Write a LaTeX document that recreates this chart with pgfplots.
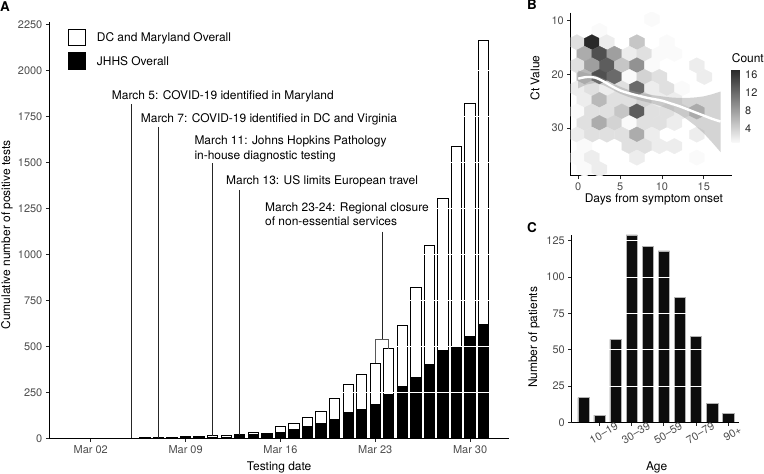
\documentclass[border=0pt]{standalone}
\usepackage{fontspec}
\setmainfont{TeX Gyre Heros}
\usepackage{pgfplots}
\usepackage{pgfplotstable}
\pgfplotsset{compat=1.18}
\definecolor{tickgray}{RGB}{77,77,77}
\newcommand\fa{\fontsize{12}{14}\selectfont}
\newcommand\ft{\fontsize{11}{13}\selectfont}
\pgfdeclareplotmark{hexa}{%
 \pgfpathmoveto{\pgfqpoint{0bp}{7.69bp}}%
 \pgfpathlineto{\pgfqpoint{7.54bp}{3.85bp}}%
 \pgfpathlineto{\pgfqpoint{7.54bp}{-3.85bp}}%
 \pgfpathlineto{\pgfqpoint{0bp}{-7.69bp}}%
 \pgfpathlineto{\pgfqpoint{-7.54bp}{-3.85bp}}%
 \pgfpathlineto{\pgfqpoint{-7.54bp}{3.85bp}}%
 \pgfpathclose
 \pgfusepathqfillstroke}
\pgfplotsset{
  /pgf/number format/assume math mode=true,
  myaxis/.style={
    scale only axis, anchor=south west,
    axis x line*=bottom, axis y line*=left,
    tick align=outside, major tick length=3.5bp,
    tick style={black!85, line width=0.8bp},
    axis line style={black, line width=0.9bp},
    tick label style={font=\ft, text=tickgray},
    label style={font=\fa},
    /pgf/number format/1000 sep={},
    scaled ticks=false,
  }
}
\pgfplotstableread{
d v
6 3
7 4
8 6
9 9
10 11
11 14
12 15
13 19
14 31
15 26
16 65
17 83
18 115
19 147
20 218
21 292
22 346
23 409
24 487
25 614
26 817
27 1049
28 1303
29 1587
30 1819
31 2163
}\dcmd
\pgfplotstableread{
d v
8 1
9 2
10 3
11 5
12 7
13 17
14 18
15 28
16 34
17 47
18 62
19 80
20 100
21 139
22 158
23 185
24 239
25 279
26 333
27 402
28 478
29 500
30 552
31 621
}\jhhs
\pgfplotstableread{
x y c
8.79 9.73 1
2.53 11.88 1
-0.155 14.03 3
1.633 14.03 17
3.42 14.03 2
7.0 14.03 5
10.58 14.03 1
0.74 16.18 7
2.53 16.18 14
4.32 16.18 8
6.11 16.18 2
7.9 16.18 3
9.69 16.18 1
11.48 16.18 1
-0.155 18.33 3
1.633 18.33 8
3.42 18.33 13
5.21 18.33 5
7.0 18.33 9
8.79 18.33 1
14.16 18.33 2
0.74 20.48 6
2.53 20.48 14
4.32 20.48 12
6.11 20.48 1
7.9 20.48 4
9.69 20.48 3
15.06 20.48 2
-0.155 22.63 2
1.633 22.63 3
3.42 22.63 2
5.21 22.63 3
7.0 22.63 12
8.79 22.63 2
10.58 22.63 3
12.37 22.63 1
0.74 24.78 2
2.53 24.78 6
4.32 24.78 3
6.11 24.78 3
7.9 24.78 4
9.69 24.78 2
11.48 24.78 2
-0.155 26.93 1
1.633 26.93 3
3.42 26.93 3
5.21 26.93 5
7.0 26.93 13
8.79 26.93 3
10.58 26.93 3
12.37 26.93 2
14.16 26.93 6
0.74 29.08 3
2.53 29.08 7
4.32 29.08 4
6.11 29.08 1
7.9 29.08 3
9.69 29.08 3
11.48 29.08 2
-0.155 31.23 2
1.633 31.23 3
3.42 31.23 3
5.21 31.23 3
7.0 31.23 7
8.79 31.23 2
14.16 31.23 2
0.74 33.38 1
6.11 33.38 3
7.9 33.38 3
9.69 33.38 2
11.48 33.38 2
-0.155 35.52 1
1.633 35.52 2
7.0 35.52 2
14.16 35.52 1
0.74 37.67 1
2.53 37.67 2
}\hexdata
\begin{document}
\begin{tikzpicture}
\path[use as bounding box] (0bp,0bp) rectangle (764bp,474bp);
% ---------------- Panel A
\begin{axis}[myaxis, at={(49.3bp,35.7bp)}, width=459.4bp, height=416.6bp,
  xmin=-1.06, xmax=32.85, ymin=0, ymax=2264,
  xtick={2,9,16,23,30}, xticklabels={Mar 02,Mar 09,Mar 16,Mar 23,Mar 30},
  ytick={0,250,...,2250},
  ymajorgrids, grid style={white, line width=1bp},
  axis on top,
  xlabel={Testing date}, ylabel={Cumulative number of positive tests},
  xlabel style={at={(axis description cs:0.5004,-0.0689)}, anchor=center},
  ylabel style={at={(axis description cs:-0.092,0.488)}, anchor=center},
]
\addplot[ybar, bar shift=0pt, bar width=0.76, fill=white, draw=black, line width=1bp] table[x=d,y=v] {\dcmd};
\addplot[ybar, bar shift=0pt, bar width=0.76, fill=black, draw=black, line width=1bp] table[x=d,y=v] {\jhhs};
\coordinate (l5t) at (axis cs:5,1815); \coordinate (l5b) at (axis cs:5,0);
\coordinate (l7t) at (axis cs:7,1692); \coordinate (l7b) at (axis cs:7,4);
\coordinate (l11t) at (axis cs:11,1495); \coordinate (l11b) at (axis cs:11,14);
\coordinate (l13t) at (axis cs:13,1350); \coordinate (l13b) at (axis cs:13,19);
\coordinate (l23t) at (axis cs:23.5,1123); \coordinate (l23m) at (axis cs:23.5,540);
\coordinate (b23a) at (axis cs:23,540); \coordinate (b23b) at (axis cs:23,409);
\coordinate (b24a) at (axis cs:24,540); \coordinate (b24b) at (axis cs:24,487);
\end{axis}
\draw[line width=0.75bp, black!85] (l5t) -- (l5b);
\draw[line width=0.75bp, black!85] (l7t) -- (l7b);
\draw[line width=0.75bp, black!85] (l11t) -- (l11b);
\draw[line width=0.75bp, black!85] (l13t) -- (l13b);
\draw[line width=0.75bp, black!85] (l23t) -- (l23m);
\draw[line width=0.75bp, black!65] (b23b) -- (b23a) -- (b24a) -- (b24b);
\begin{scope}[every node/.style={font=\fa, inner sep=0pt, anchor=base west}]
\node at (111.7bp,374.7bp) {March 5: COVID-19 identified in Maryland};
\node at (140.7bp,351.4bp) {March 7: COVID-19 identified in DC and Virginia};
\node at (194.3bp,329.7bp) {March 11: Johns Hopkins Pathology};
\node at (194.3bp,314.7bp) {in-house diagnostic testing};
\node at (226bp,289.7bp) {March 13: US limits European travel};
\node at (265bp,262bp) {March 23-24: Regional closure};
\node at (265bp,248bp) {of non-essential services};
\node at (96.7bp,432.4bp) {DC and Maryland Overall};
\node at (96.7bp,408.7bp) {JHHS Overall};
\end{scope}
\draw[black, line width=1bp, fill=white] (68.8bp,428.8bp) rectangle (85.5bp,444.5bp);
\draw[black, line width=1bp, fill=black] (68.8bp,404.5bp) rectangle (85.5bp,421.8bp);
\node[font=\fontsize{13.5}{15}\selectfont\bfseries, inner sep=0pt, anchor=base west] at (0bp,462.3bp) {A};
\node[font=\fontsize{13.5}{15}\selectfont\bfseries, inner sep=0pt, anchor=base west] at (527bp,464bp) {B};
\node[font=\fontsize{13.5}{15}\selectfont\bfseries, inner sep=0pt, anchor=base west] at (527bp,241bp) {C};
% ---------------- Panel B
\begin{axis}[myaxis, at={(570.7bp,298.3bp)}, width=161.6bp, height=163bp,
  xmin=-0.9, xmax=18.4, ymin=8.51, ymax=38.89, y dir=reverse,
  xtick={0,5,10,15}, ytick={10,20,30},
  clip marker paths=true,
  colormap={hexgray}{rgb255=(250,250,250) rgb255=(40,40,40)},
  point meta min=1, point meta max=17.2,
  colorbar,
  colorbar style={at={(parent axis.north east)}, anchor=north west, xshift=-9.1bp, yshift=-56.6bp,
    width=8bp, height=73.3bp, scale only axis, y dir=normal,
    ytick={4,8,12,16}, yticklabel pos=right, axis line style={draw=none},
    major tick length=0bp, tick label style={font=\ft, text=black!85, inner sep=0pt, xshift=5.3bp}},
  xlabel={Days from symptom onset}, ylabel={Ct Value},
  xlabel style={at={(axis description cs:0.515,-0.143)}, anchor=center},
  ylabel style={at={(axis description cs:-0.221,0.599)}, anchor=center},
]
\addplot[scatter, only marks, mark=hexa, point meta=explicit,
  mark options={line width=0.3bp},
  scatter/use mapped color={draw=mapped color, fill=mapped color}]
  table[x=x, y=y, meta=c] {\hexdata};
\addplot[draw=none, fill=black!40, fill opacity=0.42] coordinates {
(0,19.3) (1,19.8) (2,20.2) (3,20.8) (4,21.6) (5,22.3) (6,22.9) (7,23.3) (8,23.6) (9,23.9)
(10,24.1) (11,24.3) (12,24.4) (13,24.4) (14,24.3) (15,24.1) (16,23.7) (17,23.2)
(17,34.5) (16,32.7) (15,31.0) (14,29.6) (13,28.4) (12,27.4) (11,26.6) (10,26.0) (9,25.5)
(8,25.1) (7,24.7) (6,24.2) (5,23.6) (4,22.8) (3,22.0) (2,21.6) (1,21.9) (0,22.6)};
\addplot[white, line width=2.4bp, smooth] coordinates {
(0,20.8) (1,20.5) (2,20.6) (3,21.3) (4,22.2) (5,23.0) (6,23.5) (7,23.9) (8,24.3) (9,24.6)
(10,24.9) (11,25.4) (12,25.9) (13,26.5) (14,27.1) (15,27.7) (16,28.3) (17,28.8)};
\end{axis}
\node[font=\fa, inner sep=0pt, anchor=base west] at (731.7bp,411.4bp) {Count};
% ---------------- Panel C
\begin{axis}[myaxis, at={(571.7bp,51.7bp)}, width=167.6bp, height=187.3bp,
  xmin=-0.73, xmax=9.69, ymin=0, ymax=128.9,
  xtick={1,3,5,7,9}, xticklabels={10--19,30--39,50--59,70--79,90+},
  ytick={0,25,50,75,100,125},
  ymajorgrids, grid style={white, line width=0.6bp},
  axis on top,
  xticklabel style={rotate=30, anchor=center, inner sep=0pt, yshift=-8.5bp},
  xlabel={Age}, ylabel={Number of patients},
  xlabel style={at={(axis description cs:0.507,-0.240)}, anchor=center},
  ylabel style={at={(axis description cs:-0.225,0.453)}, anchor=center},
]
\addplot[ybar, bar shift=0pt, bar width=0.7, fill=black!95, draw=black!30, line width=0.5bp]
 coordinates {(0,17) (1,5) (2,57) (3,129) (4,121) (5,118) (6,86) (7,59) (8,13) (9,6)};
\end{axis}
\end{tikzpicture}
\end{document}
